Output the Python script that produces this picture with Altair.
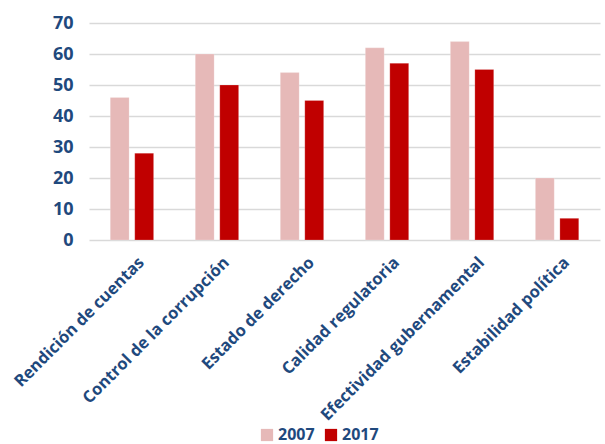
import altair as alt
import pandas as pd

categories = [
    "Rendición de cuentas",
    "Control de la corrupción",
    "Estado de derecho",
    "Calidad regulatoria",
    "Efectividad gubernamental",
    "Estabilidad política",
]
values_2007 = [46, 60, 54, 62, 64, 20]
values_2017 = [28, 50, 45, 57, 55, 7]
years = ["2007", "2017"]

rows = []
for cat, a, b in zip(categories, values_2007, values_2017):
    rows.append({"indicador": cat, "año": years[0], "valor": a})
    rows.append({"indicador": cat, "año": years[1], "valor": b})
df = pd.DataFrame(rows)

TEXT = "#1F497D"
FONT = "Open Sans"

chart = (
    alt.Chart(df)
    .mark_bar(stroke="white", strokeWidth=0.5, strokeOpacity=0.4)
    .encode(
        x=alt.X(
            "indicador:N",
            sort=categories,
            title=None,
            scale=alt.Scale(paddingInner=0.49, paddingOuter=0.25),
            axis=alt.Axis(
                labelAngle=-45,
                labelFont=FONT,
                labelFontSize=16.5,
                labelFontWeight="bold",
                labelColor=TEXT,
                ticks=False,
                domain=False,
                labelPadding=14,
                labelOffset=4,
                labelLimit=300,
            ),
        ),
        xOffset=alt.XOffset(
            "año:N", scale=alt.Scale(paddingInner=0.23, paddingOuter=0)
        ),
        y=alt.Y(
            "valor:Q",
            title=None,
            scale=alt.Scale(domain=[0, 70]),
            axis=alt.Axis(
                values=[0, 10, 20, 30, 40, 50, 60, 70],
                labelFont=FONT,
                labelFontSize=18,
                labelFontWeight="bold",
                labelColor=TEXT,
                ticks=False,
                domain=False,
                labelPadding=16,
                grid=True,
                gridColor="#D9D9D9",
                gridWidth=1.5,
            ),
        ),
        color=alt.Color(
            "año:N",
            scale=alt.Scale(domain=years, range=["#E6B9B8", "#C00000"]),
            legend=alt.Legend(
                title=None,
                orient="none",
                direction="horizontal",
                legendX=170,
                legendY=404,
                symbolType="square",
                symbolSize=150,
                symbolStrokeWidth=0,
                labelFont=FONT,
                labelFontSize=16,
                labelFontWeight="bold",
                labelColor=TEXT,
                columnPadding=8,
                labelOffset=3,
            ),
        ),
    )
    .properties(
        width=511,
        height=217,
        autosize=alt.AutoSizeParams(type="none"),
        padding={"left": 89, "top": 23, "right": 5, "bottom": 204},
    )
    .configure_view(stroke=None)
)

chart.save("out.html", embed_options={"renderer": "svg", "actions": False})
